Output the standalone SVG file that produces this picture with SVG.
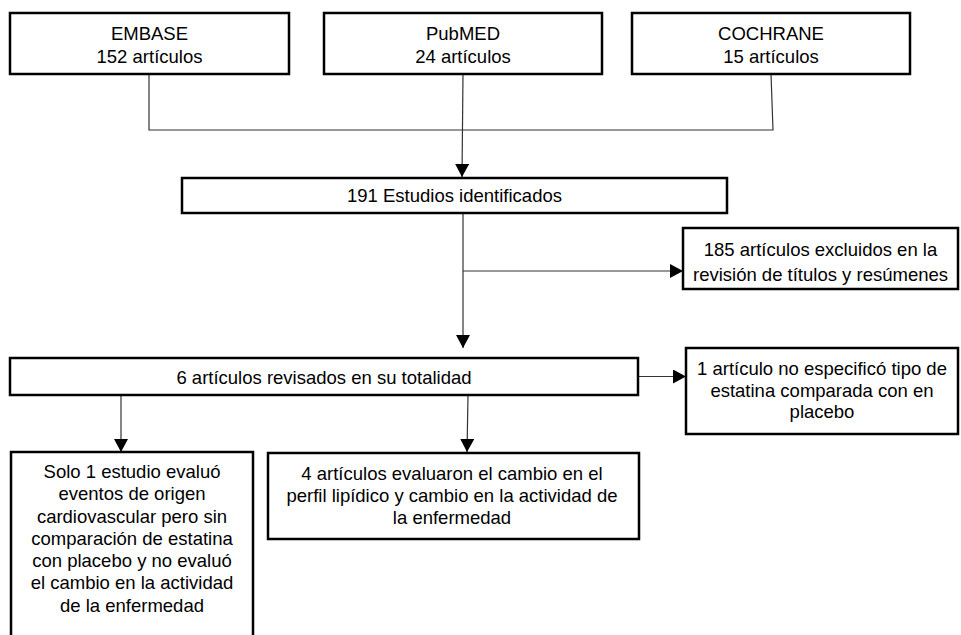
<svg xmlns="http://www.w3.org/2000/svg" width="961" height="635" viewBox="0 0 961 635">
<defs>
<style>
.box{fill:#fff;stroke:#000;stroke-width:2.5}
.t{font-family:"Liberation Sans",Arial,Helvetica,sans-serif;font-size:18.5px;fill:#000;text-anchor:middle}
.c{fill:none;stroke:#333;stroke-width:1.2}
</style>
<marker id="ah" viewBox="0 0 13 14" refX="13" refY="7" markerWidth="13" markerHeight="14" markerUnits="userSpaceOnUse" orient="auto">
<path d="M0,0 L13,7 L0,14 Z" fill="#000"/>
</marker>
</defs>
<rect width="961" height="635" fill="#fff"/>
<g id="connectors">
<path class="c" d="M149,74 V130 H773 L771,74"/>
<path class="c" d="M463,74 L462,177" marker-end="url(#ah)"/>
<path class="c" d="M463,213 V348" marker-end="url(#ah)"/>
<path class="c" d="M463,271 H683" marker-end="url(#ah)"/>
<path class="c" d="M638,376.5 H686" marker-end="url(#ah)"/>
<path class="c" d="M121,395 V452" marker-end="url(#ah)"/>
<path class="c" d="M468,395 L467,452" marker-end="url(#ah)"/>
</g>
<g id="embase">
<rect class="box" x="10" y="13" width="279" height="61"/>
<text class="t" x="149.5" y="40">EMBASE</text>
<text class="t" x="149.5" y="63">152 artículos</text>
</g>
<g id="pubmed">
<rect class="box" x="324" y="13" width="278" height="61"/>
<text class="t" x="463" y="40">PubMED</text>
<text class="t" x="463" y="63">24 artículos</text>
</g>
<g id="cochrane">
<rect class="box" x="632" y="13" width="278" height="61"/>
<text class="t" x="771" y="40">COCHRANE</text>
<text class="t" x="771" y="63">15 artículos</text>
</g>
<g id="identificados">
<rect class="box" x="182" y="178" width="545" height="35"/>
<text class="t" x="454.5" y="202">191 Estudios identificados</text>
</g>
<g id="excluidos">
<rect class="box" x="683" y="228" width="275" height="61"/>
<text class="t" x="820.5" y="256">185 artículos excluidos en la</text>
<text class="t" x="820.5" y="281">revisión de títulos y resúmenes</text>
</g>
<g id="revisados">
<rect class="box" x="10" y="358" width="628" height="37"/>
<text class="t" x="324" y="384">6 artículos revisados en su totalidad</text>
</g>
<g id="noespecifico">
<rect class="box" x="686" y="348" width="272" height="86"/>
<text class="t" x="822" y="375">1 artículo no especificó tipo de</text>
<text class="t" x="822" y="396.5">estatina comparada con en</text>
<text class="t" x="822" y="418">placebo</text>
</g>
<g id="solo">
<rect class="box" x="11" y="452" width="242" height="200"/>
<text class="t" x="132" y="478">Solo 1 estudio evaluó</text>
<text class="t" x="132" y="500">eventos de origen</text>
<text class="t" x="132" y="523">cardiovascular pero sin</text>
<text class="t" x="132" y="545">comparación de estatina</text>
<text class="t" x="132" y="567">con placebo y no evaluó</text>
<text class="t" x="132" y="589">el cambio en la actividad</text>
<text class="t" x="132" y="612">de la enfermedad</text>
</g>
<g id="cuatro">
<rect class="box" x="268" y="453" width="371" height="86"/>
<text class="t" x="452" y="480">4 artículos evaluaron el cambio en el</text>
<text class="t" x="452" y="502">perfil lipídico y cambio en la actividad de</text>
<text class="t" x="452" y="524">la enfermedad</text>
</g>
</svg>
